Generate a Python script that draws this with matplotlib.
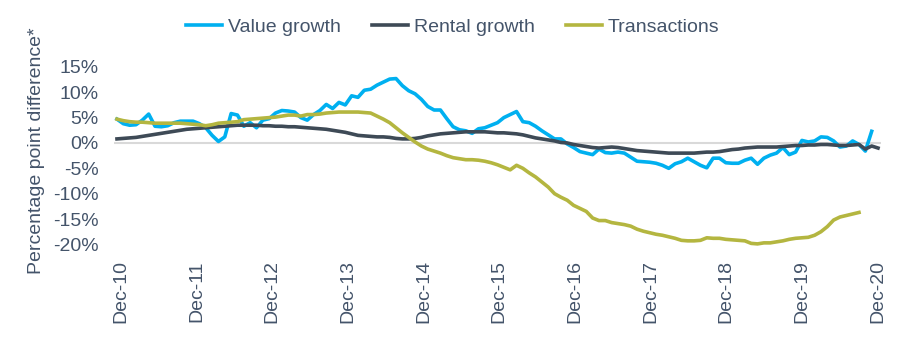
import numpy as np
import matplotlib
matplotlib.use("Agg")
import matplotlib.pyplot as plt

# monthly series, Dec-10 .. Dec-20 (percentage point difference)
value_growth = [
    4.7, 3.8, 3.5, 3.6, 4.5, 5.7, 3.3, 3.2, 3.4, 4.0, 4.3, 4.3,
    4.3, 3.8, 3.0, 1.5, 0.3, 1.2, 5.8, 5.5, 3.3, 4.0, 3.0, 4.5,
    4.8, 5.9, 6.4, 6.3, 6.1, 5.0, 4.5, 5.6, 6.4, 7.6, 6.8, 8.0,
    7.5, 9.3, 9.0, 10.4, 10.6, 11.4, 12.0, 12.6, 12.7, 11.3, 10.3, 9.7,
    8.6, 7.2, 6.5, 6.5, 4.8, 3.2, 2.6, 2.4, 1.9, 2.8, 3.0, 3.5,
    4.0, 5.0, 5.6, 6.2, 4.2, 4.0, 3.3, 2.4, 1.6, 0.8, 0.8, -0.2,
    -0.9, -1.7, -2.0, -2.3, -1.2, -1.9, -2.0, -1.8, -2.0, -2.8, -3.6, -3.7,
    -3.8, -4.0, -4.4, -5.0, -4.1, -3.7, -3.0, -3.7, -4.4, -4.9, -3.0, -3.0,
    -3.9, -4.0, -4.0, -3.4, -3.0, -4.2, -3.0, -2.4, -2.0, -0.9, -2.3, -1.8,
    0.5, 0.2, 0.4, 1.2, 1.1, 0.4, -0.8, -0.6, 0.4, -0.3, -1.6, 2.3,
    np.nan,
]
rental_growth = [
    0.8, 0.9, 1.0, 1.1, 1.3, 1.5, 1.7, 1.9, 2.1, 2.3, 2.5, 2.7,
    2.8, 2.9, 3.0, 3.1, 3.2, 3.3, 3.4, 3.5, 3.5, 3.5, 3.5, 3.4,
    3.4, 3.3, 3.3, 3.2, 3.2, 3.1, 3.0, 2.9, 2.8, 2.7, 2.5, 2.3,
    2.1, 1.8, 1.5, 1.4, 1.3, 1.2, 1.2, 1.1, 0.9, 0.8, 0.8, 0.9,
    1.1, 1.4, 1.6, 1.8, 1.9, 2.0, 2.1, 2.2, 2.2, 2.2, 2.2, 2.1,
    2.0, 2.0, 1.9, 1.8, 1.6, 1.3, 1.0, 0.8, 0.6, 0.4, 0.1, 0.0,
    -0.3, -0.5, -0.7, -0.9, -1.0, -0.9, -0.8, -0.9, -1.1, -1.3, -1.5, -1.6,
    -1.7, -1.8, -1.9, -2.0, -2.0, -2.0, -2.0, -2.0, -1.9, -1.8, -1.8, -1.7,
    -1.5, -1.3, -1.2, -1.0, -0.9, -0.8, -0.8, -0.8, -0.8, -0.7, -0.6, -0.5,
    -0.5, -0.4, -0.4, -0.3, -0.3, -0.4, -0.5, -0.5, -0.4, -0.3, -1.2, -0.6,
    -1.0,
]
transactions = [
    4.7, 4.4, 4.2, 4.1, 4.1, 4.0, 3.9, 3.9, 3.9, 3.9, 3.9, 3.8,
    3.7, 3.6, 3.4, 3.6, 3.9, 4.0, 4.1, 4.2, 4.6, 4.7, 4.8, 4.9,
    5.0, 5.1, 5.3, 5.5, 5.5, 5.3, 5.6, 5.6, 5.7, 5.9, 6.0, 6.1,
    6.1, 6.1, 6.1, 6.0, 5.9, 5.3, 4.7, 4.0, 3.0, 2.0, 1.1, 0.2,
    -0.6, -1.2, -1.6, -2.0, -2.5, -2.9, -3.1, -3.3, -3.3, -3.4, -3.6, -3.9,
    -4.3, -4.8, -5.3, -4.4, -5.0, -5.9, -6.7, -7.7, -8.7, -10.0, -10.7, -11.3,
    -12.3, -12.9, -13.5, -14.8, -15.3, -15.3, -15.7, -15.9, -16.1, -16.4, -17.0, -17.4,
    -17.7, -18.0, -18.2, -18.5, -18.8, -19.2, -19.3, -19.3, -19.2, -18.7, -18.8, -18.8,
    -19.0, -19.1, -19.2, -19.3, -19.8, -19.9, -19.7, -19.7, -19.5, -19.3, -19.0, -18.8,
    -18.7, -18.6, -18.2, -17.5, -16.5, -15.2, -14.6, -14.3, -14.0, -13.7, np.nan, np.nan,
    np.nan,
]
tick_labels = ["Dec-10", "Dec-11", "Dec-12", "Dec-13", "Dec-14", "Dec-15",
               "Dec-16", "Dec-17", "Dec-18", "Dec-19", "Dec-20"]
y_ticks = [15, 10, 5, 0, -5, -10, -15, -20]

text_col = "#44546A"
plt.rcParams["font.family"] = ["Liberation Sans", "DejaVu Sans"]

fig = plt.figure(figsize=(9, 3.38), dpi=100)
ax = fig.add_axes([113.8 / 900, 1 - 252 / 338, (881.2 - 113.8) / 900, (252 - 59.3) / 338])

x = np.arange(len(value_growth))
ax.axhline(0, color="#d9d9d9", lw=1.5, zorder=1)
ax.plot(x, value_growth, color="#00B0F0", lw=2.6, label="Value growth", zorder=2)
ax.plot(x, rental_growth, color="#3E4A56", lw=2.6, label="Rental growth", zorder=3)
ax.plot(x, transactions, color="#B4B640", lw=2.6, label="Transactions", zorder=4)

ax.set_xlim(-0.5, 120.5)
ax.set_ylim(-21.5, 16.5)
ax.set_yticks(y_ticks)
ax.set_yticklabels([f"{v}%" for v in y_ticks])
ax.set_xticks(np.linspace(0.6, 119.9, len(tick_labels)))
ax.set_xticklabels(tick_labels, rotation=90)
ax.tick_params(axis="y", length=0, pad=11, labelsize=14, labelcolor=text_col)
ax.tick_params(axis="x", length=0, pad=6, labelsize=14, labelcolor=text_col)
for sp in ax.spines.values():
    sp.set_visible(False)

fig.text(37 / 900, 1 - 151 / 338, "Percentage point difference*", rotation=90,
         ha="center", va="center", fontsize=14, color=text_col)

fig.legend(loc="center", bbox_to_anchor=(453 / 900, 1 - 27 / 338), ncol=3,
           frameon=False, fontsize=14, handlelength=1.85, handletextpad=0.3,
           columnspacing=1.6, labelcolor=text_col)

fig.savefig("out.png", dpi=100)
